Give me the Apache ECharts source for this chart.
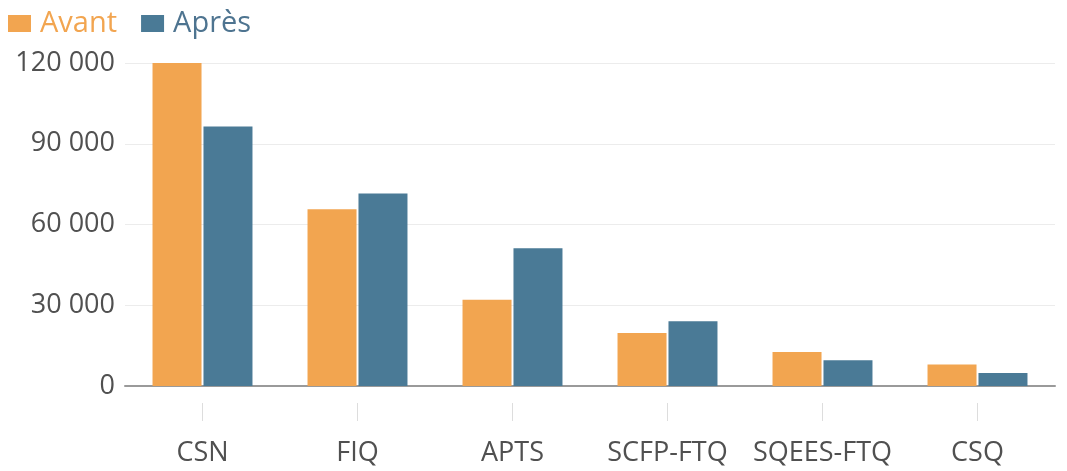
<!DOCTYPE html>
<html>
<head>
<meta charset="utf-8">
<script src="https://cdn.jsdelivr.net/npm/echarts@6/dist/echarts.min.js"></script>
<style>
html,body{margin:0;padding:0;background:#fff;}
#chart{width:1067px;height:471px;}
</style>
</head>
<body>
<div id="chart"></div>
<script>
var categories = ['CSN', 'FIQ', 'APTS', 'SCFP-FTQ', 'SQEES-FTQ', 'CSQ'];
var avant = [120000, 65700, 32000, 19700, 12600, 8000];
var apres = [96400, 71500, 51200, 24100, 9600, 4800];
var seriesNames = ['Avant', 'Après'];
var colors = ['#F2A550', '#4A7A96'];

var fontFamily = '"Open Sans", "Noto Sans", sans-serif';
function fmt(v) {
  return String(v).replace(/\B(?=(\d{3})+(?!\d))/g, ' ');
}

var chart = echarts.init(document.getElementById('chart'), null, {renderer: 'canvas'});
chart.setOption({
  animation: false,
  backgroundColor: '#ffffff',
  color: colors,
  legend: {
    left: 3,
    top: 4,
    itemWidth: 23,
    itemHeight: 17,
    itemGap: 24,
    icon: 'rect',
    textStyle: {fontFamily: fontFamily, fontSize: 29, padding: [0, 0, 0, 4]},
    data: [
      {name: seriesNames[0], textStyle: {color: '#F2A550'}},
      {name: seriesNames[1], textStyle: {color: '#4E7490'}}
    ]
  },
  grid: {left: 125, right: 12, top: 63, bottom: 85},
  xAxis: [
    {
      type: 'category',
      data: categories,
      axisLine: {show: true, lineStyle: {color: '#9a9a9a', width: 2}},
      axisTick: {show: false},
      axisLabel: {show: false}
    },
    {
      type: 'category',
      data: categories,
      position: 'bottom',
      offset: 17,
      axisLine: {show: false},
      axisTick: {show: true, alignWithLabel: true, interval: 0, length: 18, lineStyle: {color: '#dddddd', width: 1}},
      axisLabel: {interval: 0, margin: 37, color: '#505050', fontFamily: fontFamily, fontSize: 27}
    }
  ],
  yAxis: {
    type: 'value',
    min: 0,
    max: 120000,
    interval: 30000,
    axisLine: {show: false},
    axisTick: {show: false},
    axisLabel: {margin: 10, color: '#505050', fontFamily: fontFamily, fontSize: 27, formatter: fmt},
    splitLine: {lineStyle: {color: '#ececec', width: 1}}
  },
  series: [
    {name: seriesNames[0], type: 'bar', xAxisIndex: 0, data: avant, barWidth: 49, barGap: '4%', itemStyle: {color: colors[0]}},
    {name: seriesNames[1], type: 'bar', xAxisIndex: 0, data: apres, barWidth: 49, barGap: '4%', itemStyle: {color: colors[1]}}
  ]
});
</script>
</body>
</html>
